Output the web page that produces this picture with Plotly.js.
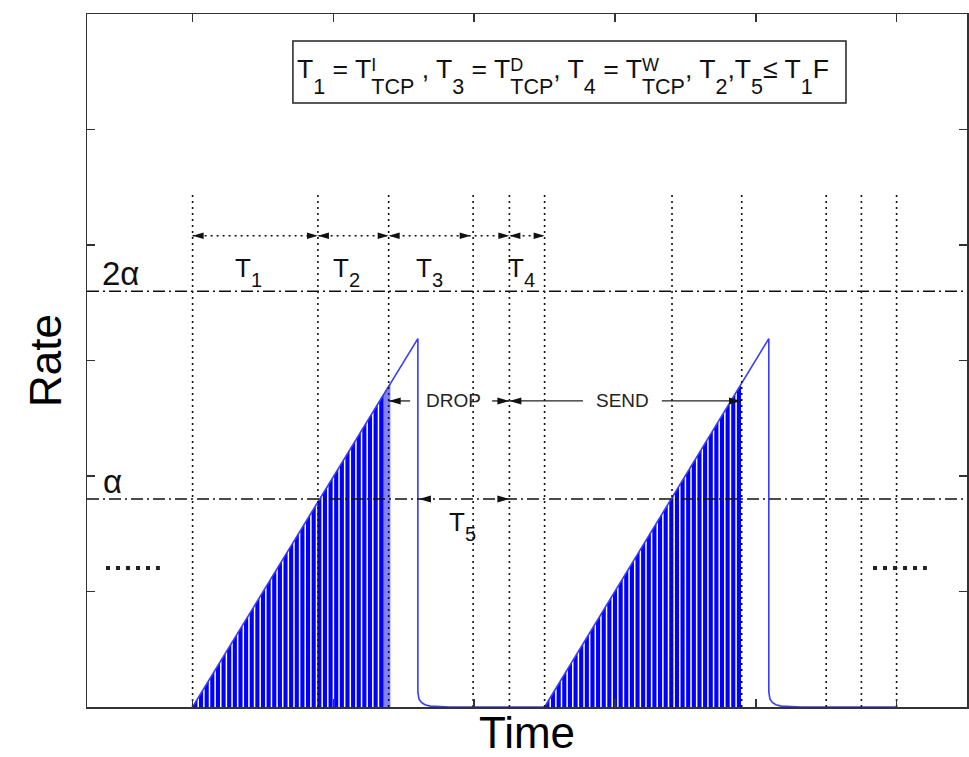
<!DOCTYPE html>
<html>
<head>
<meta charset="utf-8">
<script src="https://cdn.plot.ly/plotly-3.0.1.min.js"></script>
<style>
  html, body { margin: 0; padding: 0; background: #ffffff; }
  #chart { width: 969px; height: 757px; }
</style>
</head>
<body>
<div id="chart"></div>
<script>
// ---------------- data (time units / rate units) ----------------
// sawtooth rate envelope (two TCP cycles)
const sawTime = [3.0, 9.40, 9.40, 9.43, 9.50, 9.60, 9.75, 10.0, 10.3, 13.0, 19.37, 19.37, 19.40, 19.47, 19.57, 19.72, 19.97, 20.27, 23.0];
const sawRate = [0, 3.19, 0.13, 0.07, 0.04, 0.02, 0.008, 0.002, 0, 0, 3.19, 0.13, 0.07, 0.04, 0.02, 0.008, 0.002, 0, 0];

// packet bursts (filled areas under the ramp)
const burst1TailTime = [3.0, 8.62, 8.62];
const burst1TailRate = [0, 2.81, 0];
const burst1Time = [3.0, 8.42, 8.42];
const burst1Rate = [0, 2.71, 0];
const burst2Time = [13.0, 18.58, 18.58];
const burst2Rate = [0, 2.79, 0];

// boundaries between packets inside each burst
const gap1Time = [3.16,3.32,3.48,3.64,3.80,3.96,4.12,4.28,4.44,4.60,4.76,4.92,5.08,5.24,5.40,5.56,5.72,5.88,6.04,6.20,6.36,6.52,6.68,6.84,7.00,7.16,7.32,7.48,7.64,7.80,7.96,8.12,8.28];
const gap1Rate = [0.08,0.16,0.24,0.32,0.40,0.48,0.56,0.64,0.72,0.80,0.88,0.96,1.04,1.12,1.20,1.28,1.36,1.44,1.52,1.60,1.68,1.76,1.84,1.92,2.00,2.08,2.16,2.24,2.32,2.40,2.48,2.56,2.64];
const gap2Time = [13.16,13.32,13.48,13.64,13.80,13.96,14.12,14.28,14.44,14.60,14.76,14.92,15.08,15.24,15.40,15.56,15.72,15.88,16.04,16.20,16.36,16.52,16.68,16.84,17.00,17.16,17.32,17.48,17.64,17.80,17.96,18.12,18.28,18.44];
const gap2Rate = [0.08,0.16,0.24,0.32,0.40,0.48,0.56,0.64,0.72,0.80,0.88,0.96,1.04,1.12,1.20,1.28,1.36,1.44,1.52,1.60,1.68,1.76,1.84,1.92,2.00,2.08,2.16,2.24,2.32,2.40,2.48,2.56,2.64,2.72];

// event markers (vertical dotted lines) and their top
const eventTime = [3.0, 6.56, 8.57, 10.97, 12.0, 13.0, 16.62, 18.6, 21.0, 22.0, 23.0];
const eventTop = 4.46;

// thresholds alpha and 2 alpha
const thresholdRate = [1.8, 3.6];
const thresholdLabel = ['α', '2α'];
const timeRange = [0, 25];
const rateRange = [0, 6];

// interval arrows row (T1..T4)
const intervalRowRate = 4.08;
const intervalRowSpan = [3.0, 13.0];
const intervalLeftTips = [3.0, 6.56, 8.57, 12.0];
const intervalRightTips = [6.56, 8.57, 10.9, 12.0, 13.0];
const intervalLabels = ['1', '2', '3', '4'];
const intervalLabelTime = [4.16, 6.92, 9.30, 11.89];
const intervalLabelRate = 3.948;

// DROP / SEND row
const dsRowRate = 2.65;
const dsSegStart = [8.57, 11.51, 12.0, 16.33];
const dsSegEnd = [9.18, 12.0, 14.09, 18.58];
const dsLeftTips = [8.57, 12.0];
const dsRightTips = [12.0, 18.58];
const dsLabels = ['DROP', 'SEND'];
const dsLabelTime = [10.40, 15.20];

// T5 row on the alpha line
const t5LeftTips = [9.43];
const t5RightTips = [12.0];
const t5LabelTime = 10.24, t5LabelRate = 1.749;

// ellipsis marks
const ellipsisLeft = [0.54, 2.07];
const ellipsisRight = [22.33, 23.86];
const ellipsisRate = 1.203;

// ---------------- drawing ----------------
const FONT = 'Liberation Sans, Arial, Helvetica, sans-serif';
const INK = '#111111';
const traces = [];

function fillTrace(x, y, color) {
  return { x: x, y: y, type: 'scatter', mode: 'lines', fill: 'toself', fillcolor: color,
           line: { width: 0, color: color }, hoverinfo: 'skip', showlegend: false };
}
traces.push(fillTrace(burst1TailTime, burst1TailRate, '#8282ff'));
traces.push(fillTrace(burst1Time, burst1Rate, '#0000ff'));
traces.push(fillTrace(burst2Time, burst2Rate, '#0000ff'));

function gapTrace(times, rates) {
  const x = [], y = [];
  times.forEach((t, i) => { x.push(t, t, null); y.push(0, rates[i], null); });
  return { x: x, y: y, type: 'scatter', mode: 'lines', line: { color: '#ffffff', width: 1.5 },
           hoverinfo: 'skip', showlegend: false };
}
traces.push(gapTrace(gap1Time, gap1Rate));
traces.push(gapTrace(gap2Time, gap2Rate));

traces.push({ x: sawTime, y: sawRate, type: 'scatter', mode: 'lines',
  line: { color: '#3a3aff', width: 1.6 }, hoverinfo: 'skip', showlegend: false });

// vertical dotted event lines
(function () {
  const x = [], y = [];
  eventTime.forEach(t => { x.push(t, t, null); y.push(0, eventTop, null); });
  traces.push({ x: x, y: y, type: 'scatter', mode: 'lines',
    line: { color: INK, width: 1.6, dash: '2px,4px' }, hoverinfo: 'skip', showlegend: false });
})();

// threshold dash-dot lines
(function () {
  const x = [], y = [];
  thresholdRate.forEach(r => { x.push(timeRange[0], timeRange[1], null); y.push(r, r, null); });
  traces.push({ x: x, y: y, type: 'scatter', mode: 'lines',
    line: { color: INK, width: 1.5, dash: '12px,4px,2px,4px' }, hoverinfo: 'skip', showlegend: false });
})();

// interval dotted row
traces.push({ x: intervalRowSpan, y: [intervalRowRate, intervalRowRate], type: 'scatter', mode: 'lines',
  line: { color: INK, width: 1.5, dash: '2px,4px' }, hoverinfo: 'skip', showlegend: false });

// DROP/SEND solid stems
(function () {
  const x = [], y = [];
  dsSegStart.forEach((s, i) => { x.push(s, dsSegEnd[i], null); y.push(dsRowRate, dsRowRate, null); });
  traces.push({ x: x, y: y, type: 'scatter', mode: 'lines',
    line: { color: '#222222', width: 1.3 }, hoverinfo: 'skip', showlegend: false });
})();

// ellipsis
[ellipsisLeft, ellipsisRight].forEach(seg => {
  traces.push({ x: seg, y: [ellipsisRate, ellipsisRate], type: 'scatter', mode: 'lines',
    line: { color: '#222222', width: 4, dash: '4px,6px' }, hoverinfo: 'skip', showlegend: false });
});

// arrowheads as pixel-sized path shapes anchored at data positions
const shapes = [];
function head(t, r, dir, len, hw) {
  const p = dir < 0 ? `M0,0L${len},${hw}L${len},-${hw}Z` : `M0,0L-${len},${hw}L-${len},-${hw}Z`;
  return { type: 'path', xref: 'x', yref: 'y', xsizemode: 'pixel', ysizemode: 'pixel',
           xanchor: t, yanchor: r, path: p, fillcolor: INK, line: { width: 0 }, layer: 'above' };
}
intervalLeftTips.forEach(t => shapes.push(head(t, intervalRowRate, -1, 11, 3.2)));
intervalRightTips.forEach(t => shapes.push(head(t, intervalRowRate, 1, 11, 3.2)));
dsLeftTips.forEach(t => shapes.push(head(t, dsRowRate, -1, 12, 3.5)));
dsRightTips.forEach(t => shapes.push(head(t, dsRowRate, 1, 12, 3.5)));
t5LeftTips.forEach(t => shapes.push(head(t, thresholdRate[0], -1, 12, 3.5)));
t5RightTips.forEach(t => shapes.push(head(t, thresholdRate[0], 1, 12, 3.5)));

// formula box
shapes.push({ type: 'rect', xref: 'paper', yref: 'paper', x0: 0.234, x1: 0.8625, y0: 0.8716, y1: 0.961,
  line: { color: '#222222', width: 1.5 }, fillcolor: 'rgba(0,0,0,0)', layer: 'above' });

const sub = (t, fs, sh) => `<span style="font-size:${fs}px;baseline-shift:-${sh}px">${t}</span>`;
const sup = (t, ls) => `<span style="font-size:18px;baseline-shift:7px;letter-spacing:-${ls}px">${t}</span>`;
const formula = 'T' + sub('1', 21.5, 16) + ' = T' + sup('I', 5) + sub('TCP', 21.5, 16) + ' , T' + sub('3', 21.5, 16) +
  ' = T' + sup('D', 13) + sub('TCP', 21.5, 16) + ', T' + sub('4', 21.5, 16) + ' = T' + sup('W', 17) + sub('TCP', 21.5, 16) +
  ', T' + sub('2', 21.5, 16) + ',T' + sub('5', 21.5, 16) + '≤ T' + sub('1', 21.5, 16) + 'F';

const annotations = [];
annotations.push({ xref: 'paper', yref: 'paper', x: 0.2364, y: 0.9455, xanchor: 'left', yanchor: 'top',
  text: formula, showarrow: false, font: { family: FONT, size: 26.6, color: INK } });

intervalLabels.forEach((lab, i) => {
  annotations.push({ x: intervalLabelTime[i], y: intervalLabelRate, xanchor: 'left', yanchor: 'top',
    text: 'T' + sub(lab, 20, 10), showarrow: false, font: { family: FONT, size: 26, color: INK } });
});
annotations.push({ x: t5LabelTime, y: t5LabelRate, xanchor: 'left', yanchor: 'top',
  text: 'T' + sub('5', 20, 10), showarrow: false, font: { family: FONT, size: 26, color: INK } });

dsLabels.forEach((lab, i) => {
  annotations.push({ x: dsLabelTime[i], y: dsRowRate, xanchor: 'center', yanchor: 'middle',
    text: lab, showarrow: false, font: { family: FONT, size: 19, color: '#222222' } });
});

annotations.push({ x: 0.37, y: 3.935, xanchor: 'left', yanchor: 'top', text: thresholdLabel[1],
  showarrow: false, font: { family: FONT, size: 33, color: INK } });
annotations.push({ x: 0.40, y: 2.13, xanchor: 'left', yanchor: 'top', text: thresholdLabel[0],
  showarrow: false, font: { family: FONT, size: 33, color: INK } });

const axisCommon = {
  showgrid: false, zeroline: false, showticklabels: false,
  ticks: 'inside', ticklen: 8, tickwidth: 1.5, tickcolor: '#333333',
  showline: true, linecolor: '#333333', linewidth: 1.5, mirror: 'ticks', fixedrange: true
};

const layout = {
  width: 969, height: 757,
  margin: { l: 87, r: 2, t: 14, b: 50, pad: 0 },
  paper_bgcolor: '#ffffff', plot_bgcolor: '#ffffff',
  showlegend: false,
  xaxis: Object.assign({}, axisCommon, { range: timeRange, tick0: 3, dtick: 4,
    title: { text: 'Time', font: { family: FONT, size: 44, color: '#000000' }, standoff: 18 } }),
  yaxis: Object.assign({}, axisCommon, { range: rateRange, tick0: 0, dtick: 1,
    title: { text: 'Rate', font: { family: FONT, size: 44, color: '#000000' }, standoff: 10 } }),
  shapes: shapes,
  annotations: annotations
};

Plotly.newPlot('chart', traces, layout, { staticPlot: true, displayModeBar: false });
</script>
</body>
</html>
